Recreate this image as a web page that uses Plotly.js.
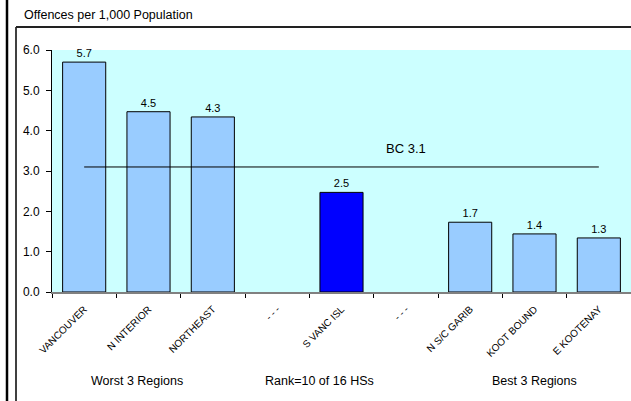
<!DOCTYPE html>
<html>
<head>
<meta charset="utf-8">
<script src="https://cdn.plot.ly/plotly-3.0.1.min.js"></script>
<style>html,body{margin:0;padding:0;background:#fff;}#chart{width:631px;height:401px;}</style>
</head>
<body>
<div id="chart"></div>
<script>
// ---- data ----
const categories = ['VANCOUVER', 'N INTERIOR', 'NORTHEAST', '- - -', 'S VANC ISL', '- - -\u200b', 'N S/C GARIB', 'KOOT BOUND', 'E KOOTENAY'];
const values = [5.70, 4.47, 4.34, null, 2.47, null, 1.73, 1.44, 1.34];
const highlight = [false, false, false, false, true, false, false, false, false];
const bcValue = 3.1;
const bcLabel = 'BC 3.1';
const chartTitle = 'Offences per 1,000 Population';
const groupLabels = ['Worst 3 Regions', 'Rank=10 of 16 HSs', 'Best 3 Regions'];

// ---- layout helpers (pixel -> paper) ----
const W = 631, H = 401, L = 52, R = 0, T = 50, B = 109;
const pw = W - L - R, ph = H - T - B;
const px = p => (p - L) / pw;
const py = p => (H - B - p) / ph;

const font = 'Arial, "Liberation Sans", sans-serif';

const trace = {
  type: 'bar',
  x: categories,
  y: values,
  width: 0.67,
  marker: {
    color: highlight.map(h => h ? '#0000FF' : '#99CCFF'),
    line: {color: '#000000', width: 1}
  },
  text: values.map(v => v == null ? '' : v.toFixed(1)),
  textposition: 'outside',
  cliponaxis: false,
  textfont: {family: font, size: 11, color: '#000'},
  hoverinfo: 'none'
};

const layout = {
  width: W, height: H,
  margin: {l: L, r: R, t: T, b: B, pad: 0},
  paper_bgcolor: '#ffffff',
  plot_bgcolor: '#CCFFFF',
  showlegend: false,
  bargap: 0.33,
  font: {family: font, color: '#000'},
  xaxis: {
    type: 'category',
    range: [-0.5, 8.5],
    tickson: 'boundaries',
    ticks: 'outside',
    ticklen: 4,
    tickcolor: '#000',
    tickangle: -45,
    ticklabelstandoff: 6,
    tickfont: {family: font, size: 10, color: '#000'},
    showline: true,
    linecolor: '#808080',
    linewidth: 1.5,
    showgrid: false,
    zeroline: false,
    fixedrange: true
  },
  yaxis: {
    range: [0, 6],
    dtick: 1,
    tick0: 0,
    tickformat: '.1f',
    ticks: 'outside',
    ticklen: 5,
    tickcolor: '#000',
    ticklabelstandoff: 4,
    tickfont: {family: font, size: 12, color: '#000'},
    showline: true,
    linecolor: '#000',
    linewidth: 1,
    showgrid: false,
    zeroline: false,
    fixedrange: true
  },
  shapes: [
    {type: 'line', xref: 'x', yref: 'y', x0: 0, x1: 8, y0: bcValue, y1: bcValue,
     line: {color: '#000', width: 1}},
    // frame lines
    {type: 'line', xref: 'paper', yref: 'paper', x0: px(7), x1: px(7), y0: py(0), y1: py(401),
     line: {color: '#000', width: 2.5}},
    {type: 'line', xref: 'paper', yref: 'paper', x0: px(16), x1: px(16), y0: py(27), y1: py(401),
     line: {color: '#000', width: 1.5}},
    {type: 'line', xref: 'paper', yref: 'paper', x0: px(16), x1: px(631), y0: py(27), y1: py(27),
     line: {color: '#222', width: 2}}
  ],
  annotations: [
    {text: chartTitle, xref: 'paper', yref: 'paper', x: px(22), y: py(15),
     xanchor: 'left', yanchor: 'middle', showarrow: false,
     font: {family: font, size: 12.5, color: '#000'}},
    {text: bcLabel, xref: 'x', yref: 'paper', x: 5, y: py(148),
     xanchor: 'center', yanchor: 'middle', showarrow: false,
     font: {family: font, size: 13, color: '#000'}},
    {text: groupLabels[0], xref: 'paper', yref: 'paper', x: px(137), y: py(381),
     xanchor: 'center', yanchor: 'middle', showarrow: false,
     font: {family: font, size: 12.5, color: '#000'}},
    {text: groupLabels[1], xref: 'paper', yref: 'paper', x: px(319), y: py(381),
     xanchor: 'center', yanchor: 'middle', showarrow: false,
     font: {family: font, size: 12.5, color: '#000'}},
    {text: groupLabels[2], xref: 'paper', yref: 'paper', x: px(534), y: py(381),
     xanchor: 'center', yanchor: 'middle', showarrow: false,
     font: {family: font, size: 12.5, color: '#000'}}
  ]
};

Plotly.newPlot('chart', [trace], layout, {displayModeBar: false, staticPlot: true});
</script>
</body>
</html>
